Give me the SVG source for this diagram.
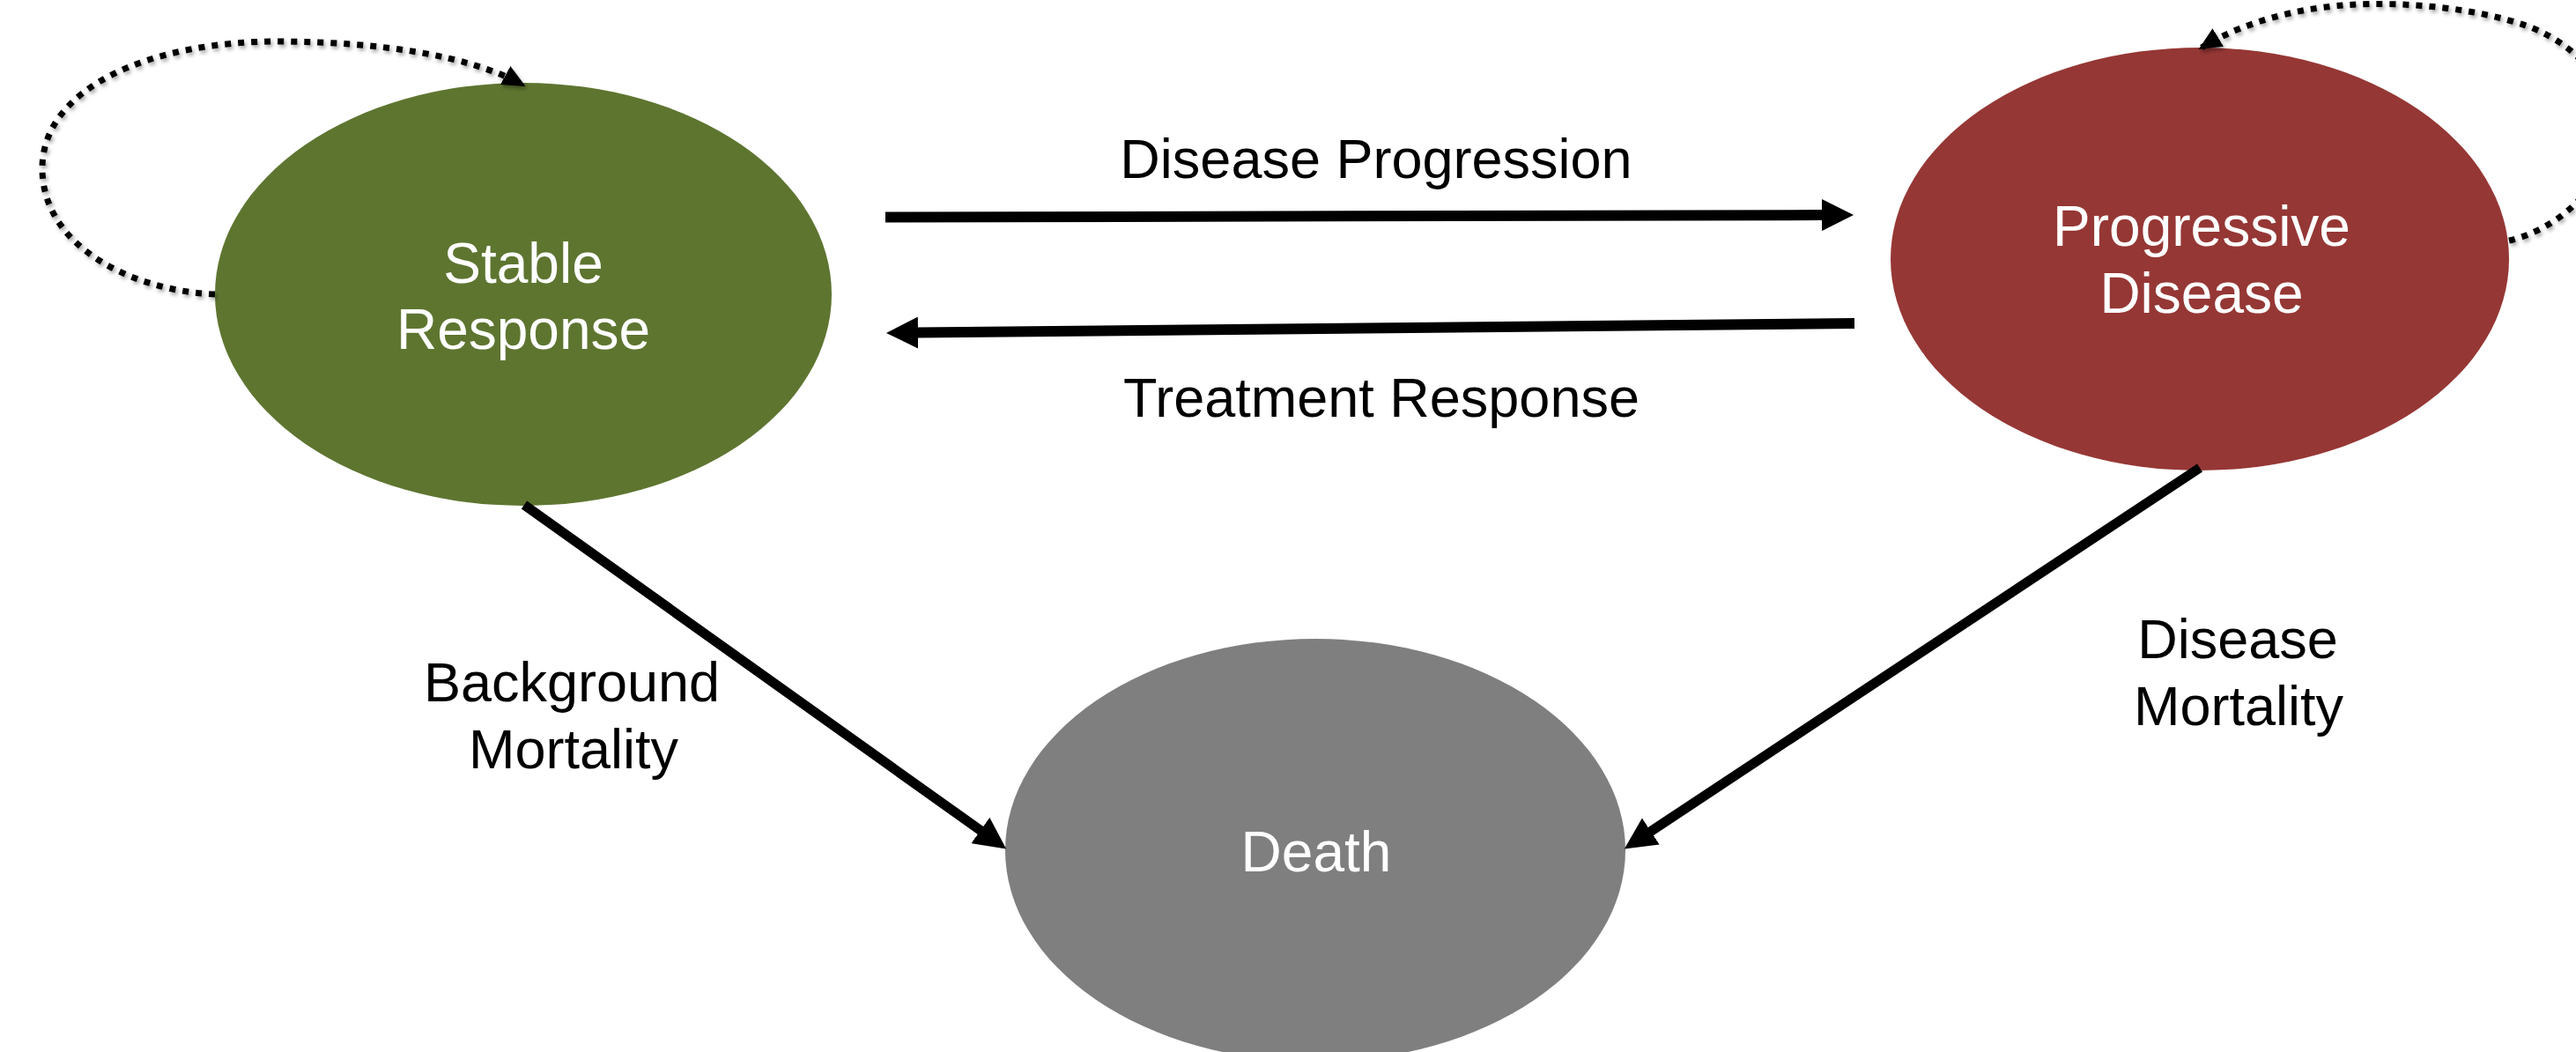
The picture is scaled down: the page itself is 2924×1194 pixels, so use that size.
<svg xmlns="http://www.w3.org/2000/svg" width="2924" height="1194" viewBox="0 0 2924 1194">
<style>
.node-label{font-family:"Liberation Sans",Arial,sans-serif;font-size:64px;fill:#ffffff;text-anchor:middle}
.edge-label{font-family:"Liberation Sans",Arial,sans-serif;font-size:63px;fill:#000000;text-anchor:middle}
.solid{fill:none;stroke:#000;stroke-linecap:butt}
.dotted{fill:none;stroke:#000;stroke-width:7;stroke-dasharray:7 8;filter:url(#shadow)}
</style>
<defs>
<filter id="shadow" x="-10%" y="-10%" width="120%" height="120%">
<feDropShadow dx="2" dy="3" stdDeviation="2" flood-color="#000" flood-opacity="0.35"/>
</filter>
<marker id="arrow" viewBox="0 0 36 36" refX="1" refY="18" markerWidth="36" markerHeight="36" markerUnits="userSpaceOnUse" orient="auto">
<path d="M0,0 L36,18 L0,36 z" fill="#000"/>
</marker>
<marker id="loopArrow" viewBox="0 0 26 24" refX="22" refY="12" markerWidth="26" markerHeight="24" markerUnits="userSpaceOnUse" orient="auto">
<path d="M0,0 L26,12 L0,24 z" fill="#000"/>
</marker>
</defs>

<g id="node-stable">
<ellipse cx="594" cy="334" rx="350" ry="240" fill="#5E7530"/>
<text class="node-label" x="594" y="321">Stable</text>
<text class="node-label" x="594" y="396">Response</text>
</g>

<g id="node-progressive">
<ellipse cx="2497" cy="294" rx="351" ry="240" fill="#953735"/>
<text class="node-label" x="2499" y="279">Progressive</text>
<text class="node-label" x="2499" y="355">Disease</text>
</g>

<g id="node-death">
<ellipse cx="1493" cy="965" rx="352" ry="240" fill="#7F7F7F"/>
<text class="node-label" x="1494" y="989">Death</text>
</g>

<g id="connectors">
<path class="dotted" d="M244,334 C150,330 48,280 48,191 C48,100 170,46 320,47 C430,48 530,62 593,96" marker-end="url(#loopArrow)"/>
<path class="dotted" d="M2848,273 C2895,262 2945,225 2960,170 C2975,110 2935,55 2870,30 C2800,5 2700,0 2640,8 C2580,15 2530,35 2499,54" marker-end="url(#loopArrow)"/>
<path class="solid" stroke-width="12" d="M1005,246.5 L2069,244.1" marker-end="url(#arrow)"/>
<path class="solid" stroke-width="12" d="M2105,367 L1041,377.6" marker-end="url(#arrow)"/>
<path class="solid" stroke-width="11" d="M595,573 L1113.7,943.1" marker-end="url(#arrow)"/>
<path class="solid" stroke-width="11" d="M2497,531 L1873,944.1" marker-end="url(#arrow)"/>
</g>

<g id="edge-labels">
<text class="edge-label" x="1562" y="202">Disease Progression</text>
<text class="edge-label" x="1568" y="473">Treatment Response</text>
<text class="edge-label" x="649" y="796">Background</text>
<text class="edge-label" x="651" y="872">Mortality</text>
<text class="edge-label" x="2540" y="747">Disease</text>
<text class="edge-label" x="2541" y="823">Mortality</text>
</g>
</svg>
